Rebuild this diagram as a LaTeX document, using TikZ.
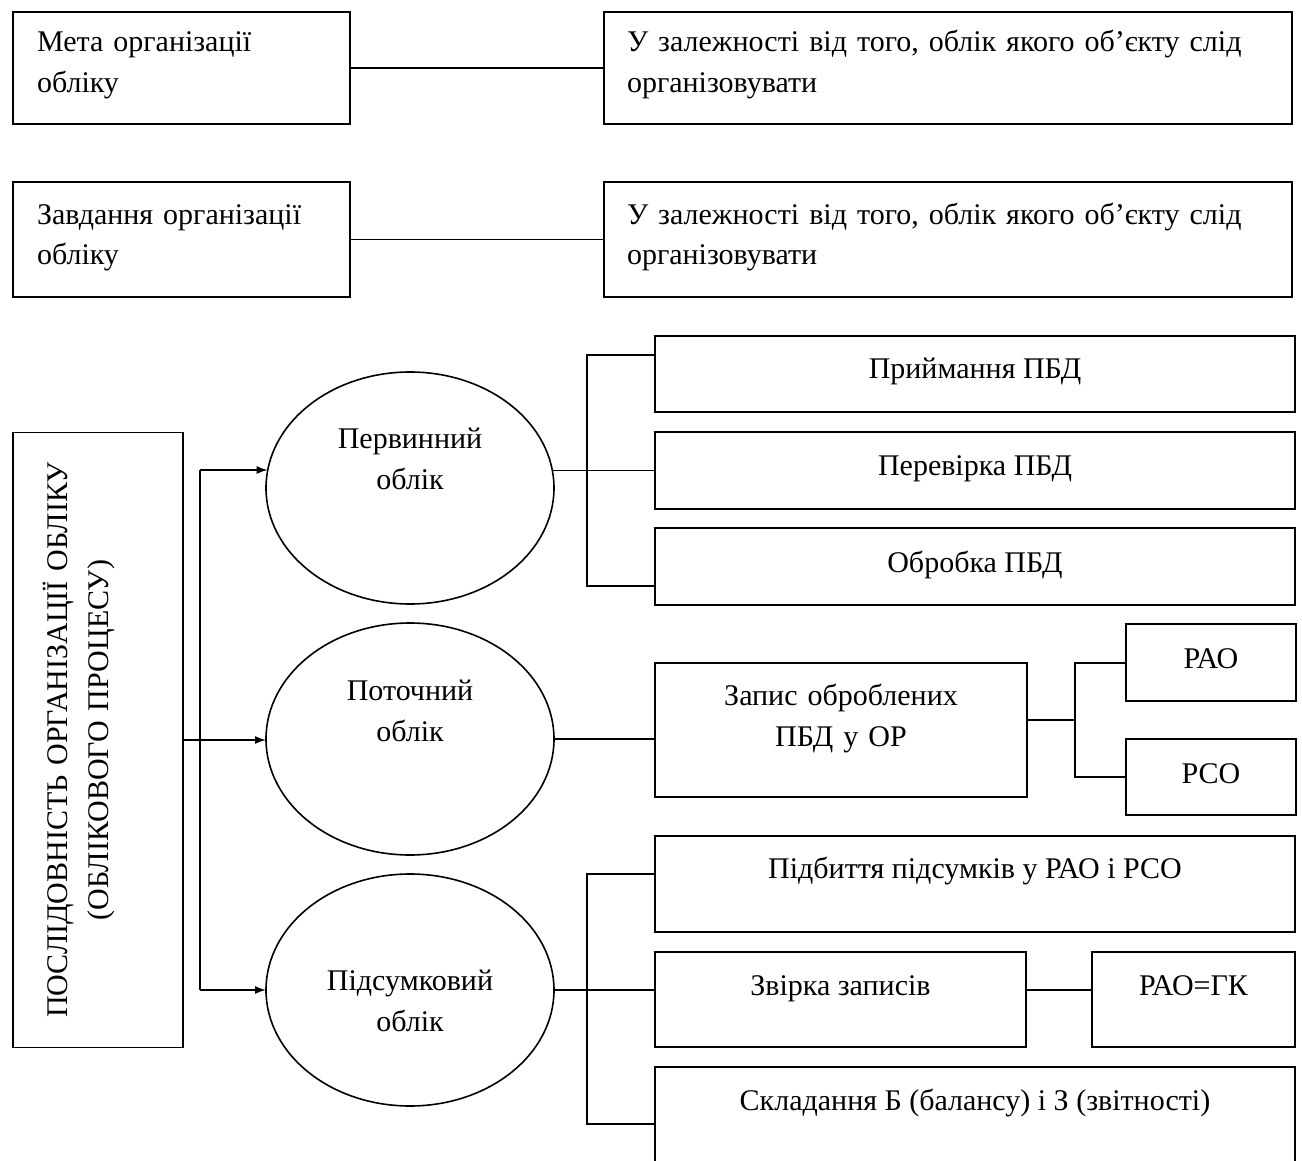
\documentclass[tikz,border=0pt]{standalone}
\usepackage{fontspec}
\setmainfont{Liberation Serif}
\usetikzlibrary{arrows.meta,shapes.geometric}

\begin{document}
\begin{tikzpicture}[x=0.5pt,y=-0.5pt,>={Latex[length=5.5pt,width=4pt]},thick,
    every node/.style={font=\fontsize{15}{20.5}\selectfont,outer sep=0pt},
    box/.style={draw,rectangle,anchor=north west,inner sep=0pt},
    note/.style={box,align=left},
    oval/.style={draw,ellipse,minimum width=144pt,minimum height=116pt,inner sep=0pt},
    caption/.style={anchor=base,align=center,text width=130pt}]
  \useasboundingbox (0,0) rectangle (1302,1161);

  % goal and tasks
  \node[note,inner xsep=12pt,text width=144.5pt,text height=20pt,text depth=36pt] (goal) at (13,12) {Мета організації\\обліку};
  \node[note,inner xsep=11.5pt,text width=321pt,text height=20pt,text depth=36pt] (goalR) at (604,12) {У залежності від того, облік якого об’єкту слід\\організовувати};
  \node[note,inner xsep=12pt,text width=144.5pt,text height=21pt,text depth=36.5pt] (task) at (13,182) {Завдання організації\\обліку};
  \node[note,inner xsep=11.5pt,text width=321pt,text height=21pt,text depth=36.5pt] (taskR) at (604,182) {У залежності від того, облік якого об’єкту слід\\організовувати};
  \draw (goal.east) -- (goalR.west);
  \draw (task.east) -- (taskR.west);

  % sequence box and stages
  \node[box,anchor=center,rotate=90,align=center,text width=307.5pt,text height=27.5pt,text depth=57.5pt] (seq) at (98,740) {ПОСЛІДОВНІСТЬ ОРГАНІЗАЦІЇ ОБЛІКУ\\(ОБЛІКОВОГО ПРОЦЕСУ)};
  \node[oval] (e1) at (410,488) {};
  \node[oval] (e2) at (410,739) {};
  \node[oval] (e3) at (410,990) {};
  \node[caption] (e1t) at ([yshift=20pt]e1.center) {Первинний\\облік};
  \node[caption] (e2t) at ([yshift=19.5pt]e2.center) {Поточний\\облік};
  \node[caption] (e3t) at (e3.center) {Підсумковий\\облік};

  \coordinate (hubT) at (200,470);
  \coordinate (hubB) at (200,990);
  \draw (hubT) -- (hubB);
  \draw[->] (seq.south) -- (seq.south -| e2.west);
  \draw[->] (hubT) -- (hubT -| e1.173);
  \draw[->] (hubB) -- (hubB -| e3.west);

  % primary
  \node[box,minimum width=320pt,text height=21pt,text depth=17pt] (p1) at (655,336) {Приймання ПБД};
  \node[box,minimum width=320pt,text height=21.5pt,text depth=17pt] (p2) at (655,432) {Перевірка ПБД};
  \node[box,minimum width=320pt,text height=22pt,text depth=16.5pt] (p3) at (655,528) {Обробка ПБД};
  \coordinate (fork1T) at (587,355);
  \coordinate (fork1B) at (587,586);
  \draw (fork1T -| p1.west) -- (fork1T) -- (fork1B) -- (fork1B -| p3.west);
  \draw (e1.7) -- (e1.7 -| p2.west);

  % current
  \node[box,align=center,text width=186pt,text height=21pt,text depth=46pt] (rec) at (655,663) {Запис оброблених\\ПБД у ОР};
  \node[box,minimum width=85pt,text height=22pt,text depth=16.5pt] (rao) at (1126,624) {РАО};
  \node[box,minimum width=85pt,text height=22pt,text depth=16pt] (rso) at (1126,739) {РСО};
  \coordinate (fork2) at (1075,720);
  \coordinate (fork2T) at (1075,663);
  \coordinate (fork2B) at (1075,777);
  \draw (e2.east) -- (e2.east -| rec.west);
  \draw (fork2 -| rec.east) -- (fork2);
  \draw (fork2T -| rao.west) -- (fork2T) -- (fork2B) -- (fork2B -| rso.west);

  % final
  \node[box,minimum width=320pt,text height=21pt,text depth=27pt] (sum) at (655,836) {Підбиття підсумків у РАО і РСО};
  \node[box,minimum width=185.5pt,text height=21.5pt,text depth=26pt] (chk) at (655,952) {Звірка записів};
  \node[box,minimum width=101.5pt,text height=21.5pt,text depth=26pt] (gl) at (1092,952) {РАО=ГК};
  \node[box,minimum width=320pt,text height=21.5pt,text depth=45pt] (rep) at (655,1067) {Складання Б (балансу) і З (звітності)};
  \coordinate (fork3T) at (587,874);
  \coordinate (fork3B) at (587,1124);
  \draw (fork3T -| sum.west) -- (fork3T) -- (fork3B) -- (fork3B -| rep.west);
  \draw (e3.east) -- (e3.east -| chk.west);
  \draw (e3.east -| chk.east) -- (e3.east -| gl.west);
\end{tikzpicture}
\end{document}
